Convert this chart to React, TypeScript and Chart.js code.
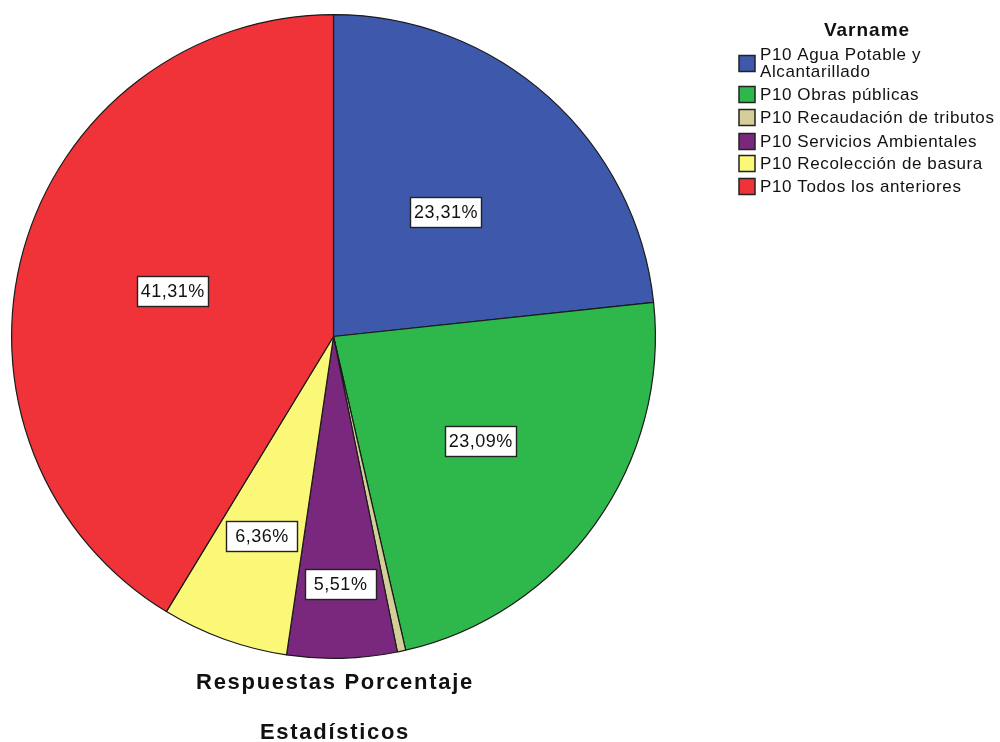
import React, { useEffect, useRef } from "react";
import { Chart, registerables } from "chart.js";

Chart.register(...registerables);

// Response categories and their share of answers (%)
const categories: string[] = [
  "P10 Agua Potable y Alcantarillado",
  "P10 Obras públicas",
  "P10 Recaudación de tributos",
  "P10 Servicios Ambientales",
  "P10 Recolección de basura",
  "P10 Todos los anteriores",
];
const percentages: number[] = [23.31, 23.09, 0.42, 5.51, 6.36, 41.31];
// Legend rows as wrapped text lines
const legendLines: string[][] = [
  ["P10 Agua Potable y", "Alcantarillado"],
  ["P10 Obras públicas"],
  ["P10 Recaudación de tributos"],
  ["P10 Servicios Ambientales"],
  ["P10 Recolección de basura"],
  ["P10 Todos los anteriores"],
];
const showLabel: boolean[] = [true, true, false, true, true, true];
const legendTitle = "Varname";
const chartTitle = "Respuestas Porcentaje";
const chartSubtitle = "Estadísticos";

const sliceColors = ["#3e58ac", "#2eb84b", "#d4cf98", "#79287e", "#fbf877", "#ef3338"];
// radial position of each value box, as a fraction of the pie radius
const labelRadius = [0.52, 0.56, 0.6, 0.77, 0.66, 0.52];

const FONT = "'Liberation Sans', Arial, sans-serif";

const fmt = (v: number) => v.toFixed(2).replace(".", ",") + "%";

const decorations = {
  id: "spssDecorations",
  afterDatasetsDraw(chart: any) {
    const ctx: CanvasRenderingContext2D = chart.ctx;
    const meta = chart.getDatasetMeta(0);
    ctx.save();
    // value boxes
    ctx.font = `18px ${FONT}`;
    (ctx as any).letterSpacing = "0.5px";
    ctx.textBaseline = "middle";
    ctx.textAlign = "center";
    meta.data.forEach((arc: any, i: number) => {
      if (!showLabel[i]) return;
      const p = arc.getProps(["x", "y", "startAngle", "endAngle", "outerRadius"], true);
      const mid = (p.startAngle + p.endAngle) / 2;
      const r = p.outerRadius * labelRadius[i];
      const cx = p.x + Math.cos(mid) * r;
      const cy = p.y + Math.sin(mid) * r;
      const w = 71;
      const h = 30;
      const bx = Math.round(cx - w / 2) + 0.5;
      const by = Math.round(cy - h / 2) + 0.5;
      ctx.fillStyle = "#ffffff";
      ctx.fillRect(bx, by, w, h);
      ctx.strokeStyle = "#222222";
      ctx.lineWidth = 1.4;
      ctx.strokeRect(bx, by, w, h);
      ctx.fillStyle = "#111111";
      ctx.fillText(fmt(percentages[i]), cx + 0.5, cy + 1);
    });
    ctx.restore();
  },
  afterDraw(chart: any) {
    const ctx: CanvasRenderingContext2D = chart.ctx;
    ctx.save();
    ctx.fillStyle = "#111111";
    ctx.textBaseline = "alphabetic";

    // titles under the pie
    ctx.textAlign = "center";
    ctx.font = `bold 22px ${FONT}`;
    (ctx as any).letterSpacing = "1.7px";
    ctx.fillText(chartTitle, 335, 689);
    ctx.fillText(chartSubtitle, 335, 739);

    // legend
    ctx.font = `bold 19px ${FONT}`;
    (ctx as any).letterSpacing = "1px";
    ctx.fillText(legendTitle, 867, 36);

    ctx.textAlign = "left";
    ctx.font = `17px ${FONT}`;
    (ctx as any).letterSpacing = "0.6px";
    const rowTop = [48, 88, 111, 135, 157, 180];
    legendLines.forEach((lines, i) => {
      const top = rowTop[i];
      lines.forEach((line, j) => {
        ctx.fillStyle = "#111111";
        ctx.fillText(line, 760, top + 12 + j * 17);
      });
      const textH = 12 + (lines.length - 1) * 17;
      const sy = Math.round(top + textH / 2 - 8) + 0.5;
      ctx.fillStyle = sliceColors[i];
      ctx.fillRect(739, sy, 16, 16);
      ctx.strokeStyle = "#222222";
      ctx.lineWidth = 1.5;
      ctx.strokeRect(739, sy, 16, 16);
    });
    ctx.restore();
  },
};

export default function App() {
  const canvasRef = useRef<HTMLCanvasElement | null>(null);

  useEffect(() => {
    if (!canvasRef.current) return;
    const chart = new Chart(canvasRef.current, {
      type: "pie",
      data: {
        labels: categories,
        datasets: [
          {
            data: percentages,
            backgroundColor: sliceColors,
            borderColor: "#1a1a1a",
            borderWidth: 1.2,
          },
        ],
      },
      options: {
        responsive: false,
        animation: false,
        devicePixelRatio: 1,
        layout: { padding: { left: 11, top: 14, right: 344, bottom: 83 } },
        plugins: {
          legend: { display: false },
          tooltip: { enabled: false },
        },
      },
      plugins: [decorations],
    });
    return () => chart.destroy();
  }, []);

  return (
    <div style={{ position: "fixed", left: 0, top: 0, width: 1000, height: 742, background: "#ffffff" }}>
      <canvas ref={canvasRef} width={1000} height={742} style={{ width: 1000, height: 742 }} />
    </div>
  );
}
